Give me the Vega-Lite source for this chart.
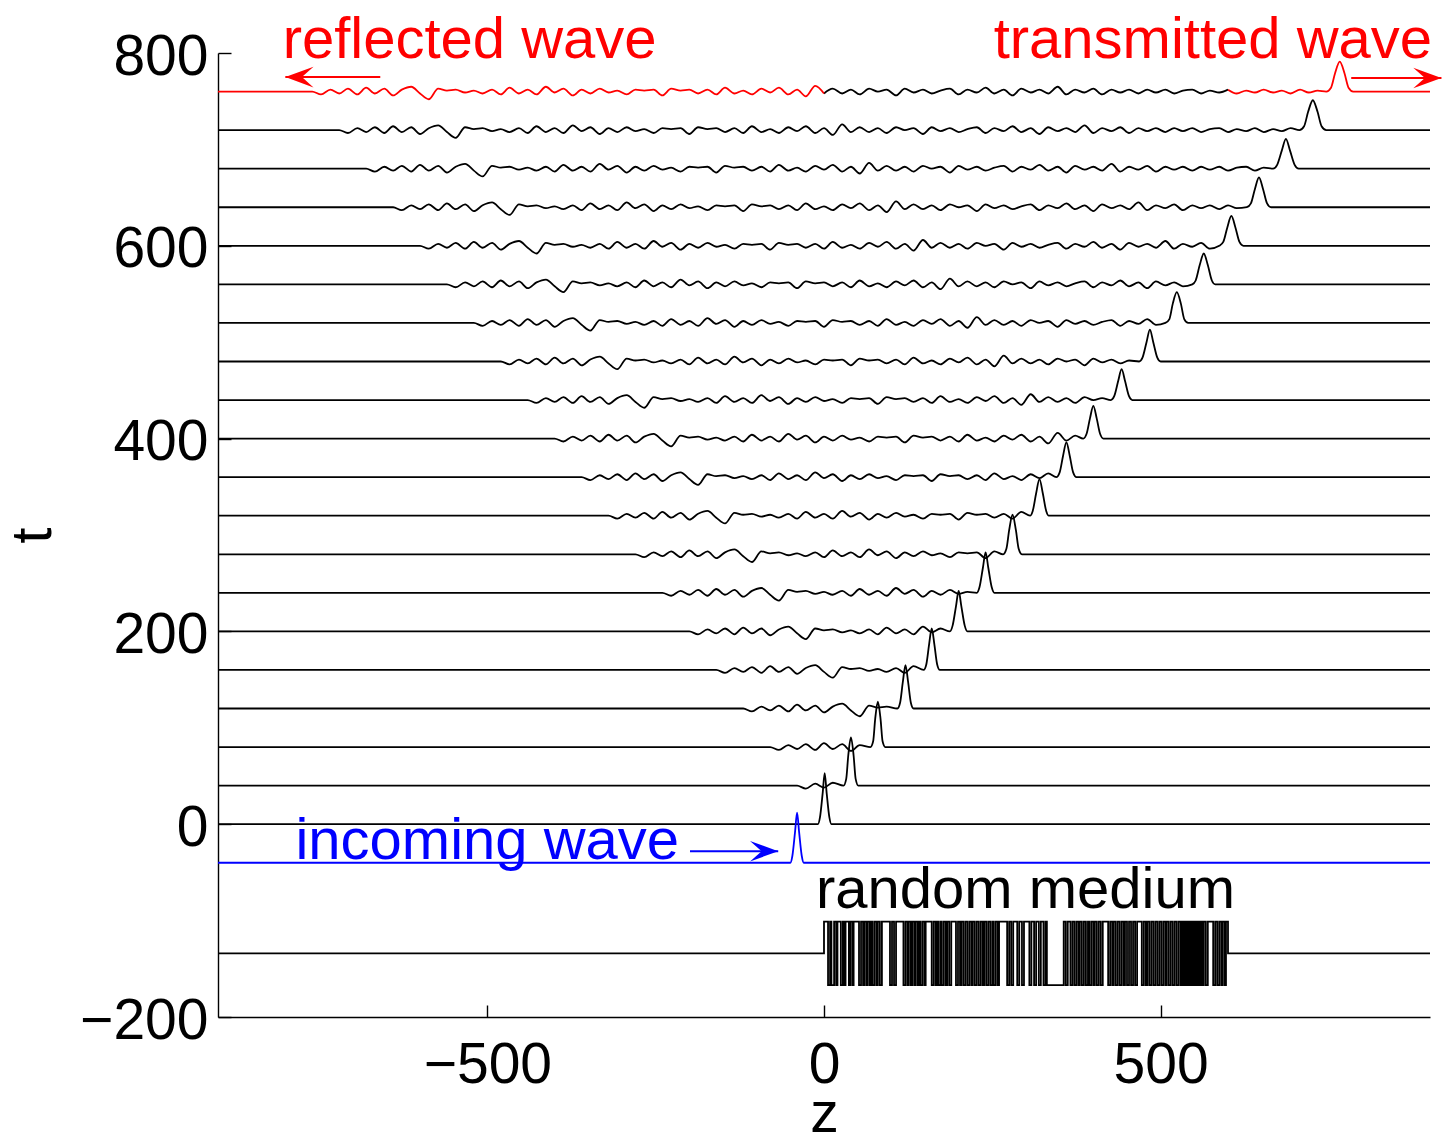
{
"$schema":"https://vega.github.io/schema/vega-lite/v6.json",
"width":1212,"height":964,
"autosize":{"type":"none"},
"padding":{"left":218,"top":53,"right":12,"bottom":121},
"background":"white",
"config":{"view":{"stroke":null},"font":"Liberation Sans","axis":{"labelFont":"Liberation Sans","titleFont":"Liberation Sans","grid":false}},
"datasets":{
"dots":[{"z":0},{"z":600}],
"blue":[{"z":-900,"y":-40},{"z":-50,"y":-40},{"z":-47,"y":-33},{"z":-43,"y":-8},{"z":-40,"y":12},{"z":-37,"y":-8},{"z":-33,"y":-33},{"z":-30,"y":-40},{"z":900,"y":-40}],
"red":[{"p":"r","z":-900,"y":760},{"p":"r","z":-760,"y":760},{"p":"r","z":-747,"y":757},{"p":"r","z":-733,"y":762},{"p":"r","z":-720,"y":758},{"p":"r","z":-707,"y":763},{"p":"r","z":-693,"y":757},{"p":"r","z":-680,"y":764},{"p":"r","z":-667,"y":758},{"p":"r","z":-653,"y":763},{"p":"r","z":-640,"y":756},{"p":"r","z":-627,"y":762},{"p":"r","z":-613,"y":765},{"p":"r","z":-600,"y":758},{"p":"r","z":-587,"y":752},{"p":"r","z":-573,"y":763},{"p":"r","z":-560,"y":761},{"p":"r","z":-547,"y":762},{"p":"r","z":-533,"y":759},{"p":"r","z":-520,"y":761},{"p":"r","z":-507,"y":758},{"p":"r","z":-493,"y":762},{"p":"r","z":-480,"y":757},{"p":"r","z":-467,"y":764},{"p":"r","z":-453,"y":758},{"p":"r","z":-440,"y":762},{"p":"r","z":-427,"y":757},{"p":"r","z":-413,"y":765},{"p":"r","z":-400,"y":759},{"p":"r","z":-387,"y":763},{"p":"r","z":-373,"y":756},{"p":"r","z":-360,"y":762},{"p":"r","z":-347,"y":758},{"p":"r","z":-333,"y":763},{"p":"r","z":-320,"y":759},{"p":"r","z":-307,"y":761},{"p":"r","z":-293,"y":757},{"p":"r","z":-280,"y":762},{"p":"r","z":-267,"y":761},{"p":"r","z":-253,"y":762},{"p":"r","z":-240,"y":756},{"p":"r","z":-227,"y":763},{"p":"r","z":-213,"y":761},{"p":"r","z":-200,"y":762},{"p":"r","z":-187,"y":758},{"p":"r","z":-173,"y":762},{"p":"r","z":-160,"y":757},{"p":"r","z":-147,"y":764},{"p":"r","z":-133,"y":758},{"p":"r","z":-120,"y":761},{"p":"r","z":-107,"y":757},{"p":"r","z":-93,"y":763},{"p":"r","z":-80,"y":759},{"p":"r","z":-67,"y":764},{"p":"r","z":-53,"y":757},{"p":"r","z":-40,"y":762},{"p":"r","z":-27,"y":755},{"p":"r","z":-13,"y":766},{"p":"r","z":0,"y":758},
{"p":"T","z":600,"y":762},{"p":"T","z":613,"y":758},{"p":"T","z":627,"y":761},{"p":"T","z":640,"y":759},{"p":"T","z":653,"y":762},{"p":"T","z":667,"y":759},{"p":"T","z":680,"y":761},{"p":"T","z":693,"y":758},{"p":"T","z":707,"y":762},{"p":"T","z":720,"y":759},{"p":"T","z":733,"y":761},{"p":"T","z":746,"y":760},{"p":"T","z":753,"y":764},{"p":"T","z":759,"y":779},{"p":"T","z":766,"y":791},{"p":"T","z":773,"y":779},{"p":"T","z":779,"y":764},{"p":"T","z":786,"y":760},{"p":"T","z":900,"y":760}],
"med":[{"z":-900,"y":-134},{"z":0,"y":-101},{"z":6,"y":-167},{"z":9,"y":-101},{"z":11,"y":-167},{"z":15,"y":-101},{"z":18,"y":-167},{"z":20,"y":-101},{"z":25,"y":-167},{"z":28,"y":-101},{"z":30,"y":-167},{"z":32,"y":-101},{"z":37,"y":-167},{"z":39,"y":-101},{"z":42,"y":-167},{"z":44,"y":-101},{"z":52,"y":-167},{"z":55,"y":-101},{"z":58,"y":-167},{"z":60,"y":-101},{"z":63,"y":-167},{"z":65,"y":-101},{"z":68,"y":-167},{"z":70,"y":-101},{"z":72,"y":-167},{"z":75,"y":-101},{"z":78,"y":-167},{"z":80,"y":-101},{"z":83,"y":-167},{"z":86,"y":-101},{"z":98,"y":-167},{"z":101,"y":-101},{"z":104,"y":-167},{"z":107,"y":-101},{"z":118,"y":-167},{"z":121,"y":-101},{"z":124,"y":-167},{"z":126,"y":-101},{"z":129,"y":-167},{"z":131,"y":-101},{"z":134,"y":-167},{"z":136,"y":-101},{"z":139,"y":-167},{"z":141,"y":-101},{"z":143,"y":-167},{"z":146,"y":-101},{"z":149,"y":-167},{"z":151,"y":-101},{"z":160,"y":-167},{"z":163,"y":-101},{"z":166,"y":-167},{"z":168,"y":-101},{"z":170,"y":-167},{"z":173,"y":-101},{"z":175,"y":-167},{"z":178,"y":-101},{"z":181,"y":-167},{"z":183,"y":-101},{"z":186,"y":-167},{"z":189,"y":-101},{"z":196,"y":-167},{"z":199,"y":-101},{"z":202,"y":-167},{"z":204,"y":-101},{"z":207,"y":-167},{"z":210,"y":-101},{"z":213,"y":-167},{"z":216,"y":-101},{"z":219,"y":-167},{"z":221,"y":-101},{"z":224,"y":-167},{"z":227,"y":-101},{"z":230,"y":-167},{"z":233,"y":-101},{"z":236,"y":-167},{"z":238,"y":-101},{"z":241,"y":-167},{"z":244,"y":-101},{"z":247,"y":-167},{"z":250,"y":-101},{"z":252,"y":-167},{"z":255,"y":-101},{"z":258,"y":-167},{"z":260,"y":-101},{"z":272,"y":-167},{"z":275,"y":-101},{"z":278,"y":-167},{"z":281,"y":-101},{"z":287,"y":-167},{"z":290,"y":-101},{"z":294,"y":-167},{"z":297,"y":-101},{"z":305,"y":-167},{"z":308,"y":-101},{"z":312,"y":-167},{"z":315,"y":-101},{"z":319,"y":-167},{"z":322,"y":-101},{"z":326,"y":-167},{"z":329,"y":-101},{"z":331,"y":-167},{"z":356,"y":-101},{"z":359,"y":-167},{"z":362,"y":-101},{"z":366,"y":-167},{"z":369,"y":-101},{"z":372,"y":-167},{"z":375,"y":-101},{"z":378,"y":-167},{"z":380,"y":-101},{"z":383,"y":-167},{"z":386,"y":-101},{"z":389,"y":-167},{"z":392,"y":-101},{"z":394,"y":-167},{"z":397,"y":-101},{"z":400,"y":-167},{"z":402,"y":-101},{"z":405,"y":-167},{"z":408,"y":-101},{"z":411,"y":-167},{"z":414,"y":-101},{"z":422,"y":-167},{"z":425,"y":-101},{"z":428,"y":-167},{"z":430,"y":-101},{"z":433,"y":-167},{"z":436,"y":-101},{"z":439,"y":-167},{"z":442,"y":-101},{"z":445,"y":-167},{"z":447,"y":-101},{"z":450,"y":-167},{"z":453,"y":-101},{"z":456,"y":-167},{"z":459,"y":-101},{"z":462,"y":-167},{"z":465,"y":-101},{"z":472,"y":-167},{"z":475,"y":-101},{"z":478,"y":-167},{"z":480,"y":-101},{"z":483,"y":-167},{"z":486,"y":-101},{"z":489,"y":-167},{"z":492,"y":-101},{"z":495,"y":-167},{"z":498,"y":-101},{"z":501,"y":-167},{"z":504,"y":-101},{"z":507,"y":-167},{"z":509,"y":-101},{"z":512,"y":-167},{"z":515,"y":-101},{"z":518,"y":-167},{"z":521,"y":-101},{"z":524,"y":-167},{"z":527,"y":-101},{"z":530,"y":-167},{"z":532,"y":-101},{"z":534,"y":-167},{"z":536,"y":-101},{"z":538,"y":-167},{"z":540,"y":-101},{"z":542,"y":-167},{"z":544,"y":-101},{"z":546,"y":-167},{"z":548,"y":-101},{"z":550,"y":-167},{"z":552,"y":-101},{"z":554,"y":-167},{"z":556,"y":-101},{"z":558,"y":-167},{"z":560,"y":-101},{"z":562,"y":-167},{"z":564,"y":-101},{"z":567,"y":-167},{"z":570,"y":-101},{"z":578,"y":-167},{"z":581,"y":-101},{"z":584,"y":-167},{"z":587,"y":-101},{"z":590,"y":-167},{"z":592,"y":-101},{"z":595,"y":-167},{"z":597,"y":-101},{"z":600,"y":-134},{"z":900,"y":-134}],
"arr":[{"w":"reflected","z":-659,"z2":-800,"y":775},{"w":"transmitted","z":783,"z2":917,"y":774},{"w":"incoming","z":-199,"z2":-68,"y":-28}],
"lab":[{"s":"reflected wave","w":"reflected","z":-804,"y":795},{"s":"transmitted wave","w":"transmitted","z":252,"y":795},{"s":"incoming wave","w":"incoming","z":-785,"y":-36},{"s":"random medium","w":"medium","z":-12,"y":-87}],
"tr":[
{"k":0,"z":-900,"y":0},{"k":0,"z":-9,"y":0},{"k":0,"z":-6,"y":7},{"k":0,"z":-2,"y":32},{"k":0,"z":1,"y":53},{"k":0,"z":4,"y":32},{"k":0,"z":8,"y":7},{"k":0,"z":11,"y":0},{"k":0,"z":900,"y":0},
{"k":1,"z":-900,"y":40},{"k":1,"z":-40,"y":40},{"k":1,"z":-27,"y":37},{"k":1,"z":-13,"y":42},{"k":1,"z":0,"y":38},{"k":1,"z":13,"y":43},{"k":1,"z":29,"y":40},{"k":1,"z":33,"y":47},{"k":1,"z":36,"y":71},{"k":1,"z":40,"y":90},{"k":1,"z":44,"y":71},{"k":1,"z":47,"y":47},{"k":1,"z":51,"y":40},{"k":1,"z":900,"y":40},
{"k":2,"z":-900,"y":80},{"k":2,"z":-80,"y":80},{"k":2,"z":-67,"y":77},{"k":2,"z":-53,"y":82},{"k":2,"z":-40,"y":78},{"k":2,"z":-27,"y":83},{"k":2,"z":-13,"y":77},{"k":2,"z":0,"y":84},{"k":2,"z":13,"y":78},{"k":2,"z":27,"y":83},{"k":2,"z":40,"y":76},{"k":2,"z":53,"y":82},{"k":2,"z":69,"y":80},{"k":2,"z":73,"y":86},{"k":2,"z":76,"y":109},{"k":2,"z":80,"y":127},{"k":2,"z":84,"y":109},{"k":2,"z":87,"y":86},{"k":2,"z":91,"y":80},{"k":2,"z":900,"y":80},
{"k":3,"z":-900,"y":120},{"k":3,"z":-120,"y":120},{"k":3,"z":-107,"y":117},{"k":3,"z":-93,"y":122},{"k":3,"z":-80,"y":118},{"k":3,"z":-67,"y":123},{"k":3,"z":-53,"y":117},{"k":3,"z":-40,"y":124},{"k":3,"z":-27,"y":118},{"k":3,"z":-13,"y":123},{"k":3,"z":0,"y":116},{"k":3,"z":13,"y":122},{"k":3,"z":27,"y":125},{"k":3,"z":40,"y":118},{"k":3,"z":53,"y":112},{"k":3,"z":67,"y":123},{"k":3,"z":80,"y":121},{"k":3,"z":93,"y":122},{"k":3,"z":109,"y":120},{"k":3,"z":113,"y":126},{"k":3,"z":117,"y":147},{"k":3,"z":121,"y":165},{"k":3,"z":125,"y":147},{"k":3,"z":129,"y":126},{"k":3,"z":133,"y":120},{"k":3,"z":900,"y":120},
{"k":4,"z":-900,"y":160},{"k":4,"z":-160,"y":160},{"k":4,"z":-147,"y":157},{"k":4,"z":-133,"y":162},{"k":4,"z":-120,"y":158},{"k":4,"z":-107,"y":163},{"k":4,"z":-93,"y":157},{"k":4,"z":-80,"y":164},{"k":4,"z":-67,"y":158},{"k":4,"z":-53,"y":163},{"k":4,"z":-40,"y":156},{"k":4,"z":-27,"y":162},{"k":4,"z":-13,"y":165},{"k":4,"z":0,"y":158},{"k":4,"z":13,"y":152},{"k":4,"z":27,"y":163},{"k":4,"z":40,"y":161},{"k":4,"z":53,"y":162},{"k":4,"z":67,"y":159},{"k":4,"z":80,"y":161},{"k":4,"z":93,"y":158},{"k":4,"z":107,"y":162},{"k":4,"z":120,"y":157},{"k":4,"z":133,"y":164},{"k":4,"z":148,"y":160},{"k":4,"z":152,"y":166},{"k":4,"z":156,"y":186},{"k":4,"z":160,"y":203},{"k":4,"z":164,"y":186},{"k":4,"z":168,"y":166},{"k":4,"z":172,"y":160},{"k":4,"z":900,"y":160},
{"k":5,"z":-900,"y":200},{"k":5,"z":-200,"y":200},{"k":5,"z":-187,"y":197},{"k":5,"z":-173,"y":202},{"k":5,"z":-160,"y":198},{"k":5,"z":-147,"y":203},{"k":5,"z":-133,"y":197},{"k":5,"z":-120,"y":204},{"k":5,"z":-107,"y":198},{"k":5,"z":-93,"y":203},{"k":5,"z":-80,"y":196},{"k":5,"z":-67,"y":202},{"k":5,"z":-53,"y":205},{"k":5,"z":-40,"y":198},{"k":5,"z":-27,"y":192},{"k":5,"z":-13,"y":203},{"k":5,"z":0,"y":201},{"k":5,"z":13,"y":202},{"k":5,"z":27,"y":199},{"k":5,"z":40,"y":201},{"k":5,"z":53,"y":198},{"k":5,"z":67,"y":202},{"k":5,"z":80,"y":197},{"k":5,"z":93,"y":204},{"k":5,"z":107,"y":198},{"k":5,"z":120,"y":202},{"k":5,"z":133,"y":197},{"k":5,"z":147,"y":205},{"k":5,"z":160,"y":199},{"k":5,"z":173,"y":203},{"k":5,"z":187,"y":200},{"k":5,"z":191,"y":206},{"k":5,"z":196,"y":226},{"k":5,"z":200,"y":242},{"k":5,"z":204,"y":226},{"k":5,"z":209,"y":206},{"k":5,"z":213,"y":200},{"k":5,"z":900,"y":200},
{"k":6,"z":-900,"y":240},{"k":6,"z":-240,"y":240},{"k":6,"z":-227,"y":237},{"k":6,"z":-213,"y":242},{"k":6,"z":-200,"y":238},{"k":6,"z":-187,"y":243},{"k":6,"z":-173,"y":237},{"k":6,"z":-160,"y":244},{"k":6,"z":-147,"y":238},{"k":6,"z":-133,"y":243},{"k":6,"z":-120,"y":236},{"k":6,"z":-107,"y":242},{"k":6,"z":-93,"y":245},{"k":6,"z":-80,"y":238},{"k":6,"z":-67,"y":232},{"k":6,"z":-53,"y":243},{"k":6,"z":-40,"y":241},{"k":6,"z":-27,"y":242},{"k":6,"z":-13,"y":239},{"k":6,"z":0,"y":241},{"k":6,"z":13,"y":238},{"k":6,"z":27,"y":242},{"k":6,"z":40,"y":237},{"k":6,"z":53,"y":244},{"k":6,"z":67,"y":238},{"k":6,"z":80,"y":242},{"k":6,"z":93,"y":237},{"k":6,"z":107,"y":245},{"k":6,"z":120,"y":239},{"k":6,"z":133,"y":243},{"k":6,"z":147,"y":236},{"k":6,"z":160,"y":242},{"k":6,"z":173,"y":238},{"k":6,"z":187,"y":243},{"k":6,"z":200,"y":239},{"k":6,"z":213,"y":241},{"k":6,"z":227,"y":240},{"k":6,"z":231,"y":246},{"k":6,"z":236,"y":266},{"k":6,"z":240,"y":282},{"k":6,"z":244,"y":266},{"k":6,"z":249,"y":246},{"k":6,"z":253,"y":240},{"k":6,"z":900,"y":240},
{"k":7,"z":-900,"y":280},{"k":7,"z":-280,"y":280},{"k":7,"z":-267,"y":277},{"k":7,"z":-253,"y":282},{"k":7,"z":-240,"y":278},{"k":7,"z":-227,"y":283},{"k":7,"z":-213,"y":277},{"k":7,"z":-200,"y":284},{"k":7,"z":-187,"y":278},{"k":7,"z":-173,"y":283},{"k":7,"z":-160,"y":276},{"k":7,"z":-147,"y":282},{"k":7,"z":-133,"y":285},{"k":7,"z":-120,"y":278},{"k":7,"z":-107,"y":272},{"k":7,"z":-93,"y":283},{"k":7,"z":-80,"y":281},{"k":7,"z":-67,"y":282},{"k":7,"z":-53,"y":279},{"k":7,"z":-40,"y":281},{"k":7,"z":-27,"y":278},{"k":7,"z":-13,"y":282},{"k":7,"z":0,"y":277},{"k":7,"z":13,"y":284},{"k":7,"z":27,"y":278},{"k":7,"z":40,"y":282},{"k":7,"z":53,"y":277},{"k":7,"z":67,"y":285},{"k":7,"z":80,"y":279},{"k":7,"z":93,"y":283},{"k":7,"z":107,"y":276},{"k":7,"z":120,"y":282},{"k":7,"z":133,"y":278},{"k":7,"z":147,"y":283},{"k":7,"z":160,"y":279},{"k":7,"z":173,"y":281},{"k":7,"z":187,"y":277},{"k":7,"z":200,"y":282},{"k":7,"z":213,"y":281},{"k":7,"z":227,"y":282},{"k":7,"z":240,"y":276},{"k":7,"z":253,"y":283},{"k":7,"z":266,"y":280},{"k":7,"z":271,"y":286},{"k":7,"z":275,"y":305},{"k":7,"z":280,"y":321},{"k":7,"z":285,"y":305},{"k":7,"z":289,"y":286},{"k":7,"z":294,"y":280},{"k":7,"z":900,"y":280},
{"k":8,"z":-900,"y":320},{"k":8,"z":-320,"y":320},{"k":8,"z":-307,"y":317},{"k":8,"z":-293,"y":322},{"k":8,"z":-280,"y":318},{"k":8,"z":-267,"y":323},{"k":8,"z":-253,"y":317},{"k":8,"z":-240,"y":324},{"k":8,"z":-227,"y":318},{"k":8,"z":-213,"y":323},{"k":8,"z":-200,"y":316},{"k":8,"z":-187,"y":322},{"k":8,"z":-173,"y":325},{"k":8,"z":-160,"y":318},{"k":8,"z":-147,"y":312},{"k":8,"z":-133,"y":323},{"k":8,"z":-120,"y":321},{"k":8,"z":-107,"y":322},{"k":8,"z":-93,"y":319},{"k":8,"z":-80,"y":321},{"k":8,"z":-67,"y":318},{"k":8,"z":-53,"y":322},{"k":8,"z":-40,"y":317},{"k":8,"z":-27,"y":324},{"k":8,"z":-13,"y":318},{"k":8,"z":0,"y":322},{"k":8,"z":13,"y":317},{"k":8,"z":27,"y":325},{"k":8,"z":40,"y":319},{"k":8,"z":53,"y":323},{"k":8,"z":67,"y":316},{"k":8,"z":80,"y":322},{"k":8,"z":93,"y":318},{"k":8,"z":107,"y":323},{"k":8,"z":120,"y":319},{"k":8,"z":133,"y":321},{"k":8,"z":147,"y":317},{"k":8,"z":160,"y":322},{"k":8,"z":173,"y":321},{"k":8,"z":187,"y":322},{"k":8,"z":200,"y":316},{"k":8,"z":213,"y":323},{"k":8,"z":227,"y":321},{"k":8,"z":240,"y":322},{"k":8,"z":253,"y":318},{"k":8,"z":267,"y":322},{"k":8,"z":280,"y":317},{"k":8,"z":293,"y":324},{"k":8,"z":306,"y":320},{"k":8,"z":310,"y":325},{"k":8,"z":315,"y":343},{"k":8,"z":320,"y":358},{"k":8,"z":325,"y":343},{"k":8,"z":330,"y":325},{"k":8,"z":334,"y":320},{"k":8,"z":900,"y":320},
{"k":9,"z":-900,"y":360},{"k":9,"z":-360,"y":360},{"k":9,"z":-347,"y":357},{"k":9,"z":-333,"y":362},{"k":9,"z":-320,"y":358},{"k":9,"z":-307,"y":363},{"k":9,"z":-293,"y":357},{"k":9,"z":-280,"y":364},{"k":9,"z":-267,"y":358},{"k":9,"z":-253,"y":363},{"k":9,"z":-240,"y":356},{"k":9,"z":-227,"y":362},{"k":9,"z":-213,"y":365},{"k":9,"z":-200,"y":358},{"k":9,"z":-187,"y":352},{"k":9,"z":-173,"y":363},{"k":9,"z":-160,"y":361},{"k":9,"z":-147,"y":362},{"k":9,"z":-133,"y":359},{"k":9,"z":-120,"y":361},{"k":9,"z":-107,"y":358},{"k":9,"z":-93,"y":362},{"k":9,"z":-80,"y":357},{"k":9,"z":-67,"y":364},{"k":9,"z":-53,"y":358},{"k":9,"z":-40,"y":362},{"k":9,"z":-27,"y":357},{"k":9,"z":-13,"y":365},{"k":9,"z":0,"y":359},{"k":9,"z":13,"y":363},{"k":9,"z":27,"y":356},{"k":9,"z":40,"y":362},{"k":9,"z":53,"y":358},{"k":9,"z":67,"y":363},{"k":9,"z":80,"y":359},{"k":9,"z":93,"y":361},{"k":9,"z":107,"y":357},{"k":9,"z":120,"y":362},{"k":9,"z":133,"y":361},{"k":9,"z":147,"y":362},{"k":9,"z":160,"y":356},{"k":9,"z":173,"y":363},{"k":9,"z":187,"y":361},{"k":9,"z":200,"y":362},{"k":9,"z":213,"y":358},{"k":9,"z":227,"y":362},{"k":9,"z":240,"y":357},{"k":9,"z":253,"y":364},{"k":9,"z":267,"y":358},{"k":9,"z":280,"y":361},{"k":9,"z":293,"y":357},{"k":9,"z":307,"y":363},{"k":9,"z":320,"y":359},{"k":9,"z":333,"y":364},{"k":9,"z":345,"y":360},{"k":9,"z":350,"y":365},{"k":9,"z":355,"y":382},{"k":9,"z":360,"y":396},{"k":9,"z":365,"y":382},{"k":9,"z":370,"y":365},{"k":9,"z":375,"y":360},{"k":9,"z":900,"y":360},
{"k":10,"z":-900,"y":400},{"k":10,"z":-400,"y":400},{"k":10,"z":-387,"y":397},{"k":10,"z":-373,"y":402},{"k":10,"z":-360,"y":398},{"k":10,"z":-347,"y":403},{"k":10,"z":-333,"y":397},{"k":10,"z":-320,"y":404},{"k":10,"z":-307,"y":398},{"k":10,"z":-293,"y":403},{"k":10,"z":-280,"y":396},{"k":10,"z":-267,"y":402},{"k":10,"z":-253,"y":405},{"k":10,"z":-240,"y":398},{"k":10,"z":-227,"y":392},{"k":10,"z":-213,"y":403},{"k":10,"z":-200,"y":401},{"k":10,"z":-187,"y":402},{"k":10,"z":-173,"y":399},{"k":10,"z":-160,"y":401},{"k":10,"z":-147,"y":398},{"k":10,"z":-133,"y":402},{"k":10,"z":-120,"y":397},{"k":10,"z":-107,"y":404},{"k":10,"z":-93,"y":398},{"k":10,"z":-80,"y":402},{"k":10,"z":-67,"y":397},{"k":10,"z":-53,"y":405},{"k":10,"z":-40,"y":399},{"k":10,"z":-27,"y":403},{"k":10,"z":-13,"y":396},{"k":10,"z":0,"y":402},{"k":10,"z":13,"y":398},{"k":10,"z":27,"y":403},{"k":10,"z":40,"y":399},{"k":10,"z":53,"y":401},{"k":10,"z":67,"y":397},{"k":10,"z":80,"y":402},{"k":10,"z":93,"y":401},{"k":10,"z":107,"y":402},{"k":10,"z":120,"y":396},{"k":10,"z":133,"y":403},{"k":10,"z":147,"y":401},{"k":10,"z":160,"y":402},{"k":10,"z":173,"y":398},{"k":10,"z":187,"y":402},{"k":10,"z":200,"y":397},{"k":10,"z":213,"y":404},{"k":10,"z":227,"y":398},{"k":10,"z":240,"y":401},{"k":10,"z":253,"y":397},{"k":10,"z":267,"y":403},{"k":10,"z":280,"y":399},{"k":10,"z":293,"y":404},{"k":10,"z":307,"y":397},{"k":10,"z":320,"y":402},{"k":10,"z":333,"y":395},{"k":10,"z":347,"y":406},{"k":10,"z":360,"y":398},{"k":10,"z":373,"y":403},{"k":10,"z":385,"y":400},{"k":10,"z":390,"y":405},{"k":10,"z":395,"y":421},{"k":10,"z":400,"y":434},{"k":10,"z":405,"y":421},{"k":10,"z":410,"y":405},{"k":10,"z":415,"y":400},{"k":10,"z":900,"y":400},
{"k":11,"z":-900,"y":440},{"k":11,"z":-440,"y":440},{"k":11,"z":-427,"y":437},{"k":11,"z":-413,"y":442},{"k":11,"z":-400,"y":438},{"k":11,"z":-387,"y":443},{"k":11,"z":-373,"y":437},{"k":11,"z":-360,"y":444},{"k":11,"z":-347,"y":438},{"k":11,"z":-333,"y":443},{"k":11,"z":-320,"y":436},{"k":11,"z":-307,"y":442},{"k":11,"z":-293,"y":445},{"k":11,"z":-280,"y":438},{"k":11,"z":-267,"y":432},{"k":11,"z":-253,"y":443},{"k":11,"z":-240,"y":441},{"k":11,"z":-227,"y":442},{"k":11,"z":-213,"y":439},{"k":11,"z":-200,"y":441},{"k":11,"z":-187,"y":438},{"k":11,"z":-173,"y":442},{"k":11,"z":-160,"y":437},{"k":11,"z":-147,"y":444},{"k":11,"z":-133,"y":438},{"k":11,"z":-120,"y":442},{"k":11,"z":-107,"y":437},{"k":11,"z":-93,"y":445},{"k":11,"z":-80,"y":439},{"k":11,"z":-67,"y":443},{"k":11,"z":-53,"y":436},{"k":11,"z":-40,"y":442},{"k":11,"z":-27,"y":438},{"k":11,"z":-13,"y":443},{"k":11,"z":0,"y":439},{"k":11,"z":13,"y":441},{"k":11,"z":27,"y":437},{"k":11,"z":40,"y":442},{"k":11,"z":53,"y":441},{"k":11,"z":67,"y":442},{"k":11,"z":80,"y":436},{"k":11,"z":93,"y":443},{"k":11,"z":107,"y":441},{"k":11,"z":120,"y":442},{"k":11,"z":133,"y":438},{"k":11,"z":147,"y":442},{"k":11,"z":160,"y":437},{"k":11,"z":173,"y":444},{"k":11,"z":187,"y":438},{"k":11,"z":200,"y":441},{"k":11,"z":213,"y":437},{"k":11,"z":227,"y":443},{"k":11,"z":240,"y":439},{"k":11,"z":253,"y":444},{"k":11,"z":267,"y":437},{"k":11,"z":280,"y":442},{"k":11,"z":293,"y":435},{"k":11,"z":307,"y":446},{"k":11,"z":320,"y":438},{"k":11,"z":333,"y":443},{"k":11,"z":347,"y":438},{"k":11,"z":360,"y":442},{"k":11,"z":373,"y":437},{"k":11,"z":387,"y":443},{"k":11,"z":400,"y":440},{"k":11,"z":413,"y":442},{"k":11,"z":426,"y":440},{"k":11,"z":431,"y":444},{"k":11,"z":437,"y":460},{"k":11,"z":442,"y":472},{"k":11,"z":447,"y":460},{"k":11,"z":453,"y":444},{"k":11,"z":458,"y":440},{"k":11,"z":900,"y":440},
{"k":12,"z":-900,"y":480},{"k":12,"z":-480,"y":480},{"k":12,"z":-467,"y":477},{"k":12,"z":-453,"y":482},{"k":12,"z":-440,"y":478},{"k":12,"z":-427,"y":483},{"k":12,"z":-413,"y":477},{"k":12,"z":-400,"y":484},{"k":12,"z":-387,"y":478},{"k":12,"z":-373,"y":483},{"k":12,"z":-360,"y":476},{"k":12,"z":-347,"y":482},{"k":12,"z":-333,"y":485},{"k":12,"z":-320,"y":478},{"k":12,"z":-307,"y":472},{"k":12,"z":-293,"y":483},{"k":12,"z":-280,"y":481},{"k":12,"z":-267,"y":482},{"k":12,"z":-253,"y":479},{"k":12,"z":-240,"y":481},{"k":12,"z":-227,"y":478},{"k":12,"z":-213,"y":482},{"k":12,"z":-200,"y":477},{"k":12,"z":-187,"y":484},{"k":12,"z":-173,"y":478},{"k":12,"z":-160,"y":482},{"k":12,"z":-147,"y":477},{"k":12,"z":-133,"y":485},{"k":12,"z":-120,"y":479},{"k":12,"z":-107,"y":483},{"k":12,"z":-93,"y":476},{"k":12,"z":-80,"y":482},{"k":12,"z":-67,"y":478},{"k":12,"z":-53,"y":483},{"k":12,"z":-40,"y":479},{"k":12,"z":-27,"y":481},{"k":12,"z":-13,"y":477},{"k":12,"z":0,"y":482},{"k":12,"z":13,"y":481},{"k":12,"z":27,"y":482},{"k":12,"z":40,"y":476},{"k":12,"z":53,"y":483},{"k":12,"z":67,"y":481},{"k":12,"z":80,"y":482},{"k":12,"z":93,"y":478},{"k":12,"z":107,"y":482},{"k":12,"z":120,"y":477},{"k":12,"z":133,"y":484},{"k":12,"z":147,"y":478},{"k":12,"z":160,"y":481},{"k":12,"z":173,"y":477},{"k":12,"z":187,"y":483},{"k":12,"z":200,"y":479},{"k":12,"z":213,"y":484},{"k":12,"z":227,"y":477},{"k":12,"z":240,"y":482},{"k":12,"z":253,"y":475},{"k":12,"z":267,"y":486},{"k":12,"z":280,"y":478},{"k":12,"z":293,"y":483},{"k":12,"z":307,"y":478},{"k":12,"z":320,"y":482},{"k":12,"z":333,"y":477},{"k":12,"z":347,"y":483},{"k":12,"z":360,"y":480},{"k":12,"z":373,"y":482},{"k":12,"z":387,"y":476},{"k":12,"z":400,"y":483},{"k":12,"z":413,"y":479},{"k":12,"z":427,"y":482},{"k":12,"z":440,"y":478},{"k":12,"z":453,"y":481},{"k":12,"z":468,"y":480},{"k":12,"z":473,"y":484},{"k":12,"z":479,"y":500},{"k":12,"z":484,"y":513},{"k":12,"z":489,"y":500},{"k":12,"z":495,"y":484},{"k":12,"z":500,"y":480},{"k":12,"z":900,"y":480},
{"k":13,"z":-900,"y":520},{"k":13,"z":-520,"y":520},{"k":13,"z":-507,"y":517},{"k":13,"z":-493,"y":522},{"k":13,"z":-480,"y":518},{"k":13,"z":-467,"y":523},{"k":13,"z":-453,"y":517},{"k":13,"z":-440,"y":524},{"k":13,"z":-427,"y":518},{"k":13,"z":-413,"y":523},{"k":13,"z":-400,"y":516},{"k":13,"z":-387,"y":522},{"k":13,"z":-373,"y":525},{"k":13,"z":-360,"y":518},{"k":13,"z":-347,"y":512},{"k":13,"z":-333,"y":523},{"k":13,"z":-320,"y":521},{"k":13,"z":-307,"y":522},{"k":13,"z":-293,"y":519},{"k":13,"z":-280,"y":521},{"k":13,"z":-267,"y":518},{"k":13,"z":-253,"y":522},{"k":13,"z":-240,"y":517},{"k":13,"z":-227,"y":524},{"k":13,"z":-213,"y":518},{"k":13,"z":-200,"y":522},{"k":13,"z":-187,"y":517},{"k":13,"z":-173,"y":525},{"k":13,"z":-160,"y":519},{"k":13,"z":-147,"y":523},{"k":13,"z":-133,"y":516},{"k":13,"z":-120,"y":522},{"k":13,"z":-107,"y":518},{"k":13,"z":-93,"y":523},{"k":13,"z":-80,"y":519},{"k":13,"z":-67,"y":521},{"k":13,"z":-53,"y":517},{"k":13,"z":-40,"y":522},{"k":13,"z":-27,"y":521},{"k":13,"z":-13,"y":522},{"k":13,"z":0,"y":516},{"k":13,"z":13,"y":523},{"k":13,"z":27,"y":521},{"k":13,"z":40,"y":522},{"k":13,"z":53,"y":518},{"k":13,"z":67,"y":522},{"k":13,"z":80,"y":517},{"k":13,"z":93,"y":524},{"k":13,"z":107,"y":518},{"k":13,"z":120,"y":521},{"k":13,"z":133,"y":517},{"k":13,"z":147,"y":523},{"k":13,"z":160,"y":519},{"k":13,"z":173,"y":524},{"k":13,"z":187,"y":517},{"k":13,"z":200,"y":522},{"k":13,"z":213,"y":515},{"k":13,"z":227,"y":526},{"k":13,"z":240,"y":518},{"k":13,"z":253,"y":523},{"k":13,"z":267,"y":518},{"k":13,"z":280,"y":522},{"k":13,"z":293,"y":517},{"k":13,"z":307,"y":523},{"k":13,"z":320,"y":520},{"k":13,"z":333,"y":522},{"k":13,"z":347,"y":516},{"k":13,"z":360,"y":523},{"k":13,"z":373,"y":519},{"k":13,"z":387,"y":522},{"k":13,"z":400,"y":518},{"k":13,"z":413,"y":521},{"k":13,"z":427,"y":523},{"k":13,"z":440,"y":517},{"k":13,"z":453,"y":522},{"k":13,"z":467,"y":519},{"k":13,"z":480,"y":524},{"k":13,"z":493,"y":518},{"k":13,"z":507,"y":520},{"k":13,"z":513,"y":524},{"k":13,"z":518,"y":540},{"k":13,"z":524,"y":552},{"k":13,"z":530,"y":540},{"k":13,"z":535,"y":524},{"k":13,"z":541,"y":520},{"k":13,"z":900,"y":520},
{"k":14,"z":-900,"y":560},{"k":14,"z":-560,"y":560},{"k":14,"z":-547,"y":557},{"k":14,"z":-533,"y":562},{"k":14,"z":-520,"y":558},{"k":14,"z":-507,"y":563},{"k":14,"z":-493,"y":557},{"k":14,"z":-480,"y":564},{"k":14,"z":-467,"y":558},{"k":14,"z":-453,"y":563},{"k":14,"z":-440,"y":556},{"k":14,"z":-427,"y":562},{"k":14,"z":-413,"y":565},{"k":14,"z":-400,"y":558},{"k":14,"z":-387,"y":552},{"k":14,"z":-373,"y":563},{"k":14,"z":-360,"y":561},{"k":14,"z":-347,"y":562},{"k":14,"z":-333,"y":559},{"k":14,"z":-320,"y":561},{"k":14,"z":-307,"y":558},{"k":14,"z":-293,"y":562},{"k":14,"z":-280,"y":557},{"k":14,"z":-267,"y":564},{"k":14,"z":-253,"y":558},{"k":14,"z":-240,"y":562},{"k":14,"z":-227,"y":557},{"k":14,"z":-213,"y":565},{"k":14,"z":-200,"y":559},{"k":14,"z":-187,"y":563},{"k":14,"z":-173,"y":556},{"k":14,"z":-160,"y":562},{"k":14,"z":-147,"y":558},{"k":14,"z":-133,"y":563},{"k":14,"z":-120,"y":559},{"k":14,"z":-107,"y":561},{"k":14,"z":-93,"y":557},{"k":14,"z":-80,"y":562},{"k":14,"z":-67,"y":561},{"k":14,"z":-53,"y":562},{"k":14,"z":-40,"y":556},{"k":14,"z":-27,"y":563},{"k":14,"z":-13,"y":561},{"k":14,"z":0,"y":562},{"k":14,"z":13,"y":558},{"k":14,"z":27,"y":562},{"k":14,"z":40,"y":557},{"k":14,"z":53,"y":564},{"k":14,"z":67,"y":558},{"k":14,"z":80,"y":561},{"k":14,"z":93,"y":557},{"k":14,"z":107,"y":563},{"k":14,"z":120,"y":559},{"k":14,"z":133,"y":564},{"k":14,"z":147,"y":557},{"k":14,"z":160,"y":562},{"k":14,"z":173,"y":555},{"k":14,"z":187,"y":566},{"k":14,"z":200,"y":558},{"k":14,"z":213,"y":563},{"k":14,"z":227,"y":558},{"k":14,"z":240,"y":562},{"k":14,"z":253,"y":557},{"k":14,"z":267,"y":563},{"k":14,"z":280,"y":560},{"k":14,"z":293,"y":562},{"k":14,"z":307,"y":556},{"k":14,"z":320,"y":563},{"k":14,"z":333,"y":559},{"k":14,"z":347,"y":562},{"k":14,"z":360,"y":558},{"k":14,"z":373,"y":561},{"k":14,"z":387,"y":563},{"k":14,"z":400,"y":557},{"k":14,"z":413,"y":562},{"k":14,"z":427,"y":559},{"k":14,"z":440,"y":564},{"k":14,"z":453,"y":558},{"k":14,"z":467,"y":562},{"k":14,"z":480,"y":556},{"k":14,"z":493,"y":563},{"k":14,"z":507,"y":559},{"k":14,"z":520,"y":562},{"k":14,"z":533,"y":558},{"k":14,"z":547,"y":560},{"k":14,"z":552,"y":564},{"k":14,"z":558,"y":580},{"k":14,"z":564,"y":592},{"k":14,"z":570,"y":580},{"k":14,"z":576,"y":564},{"k":14,"z":581,"y":560},{"k":14,"z":900,"y":560},
{"k":15,"z":-900,"y":600},{"k":15,"z":-600,"y":600},{"k":15,"z":-587,"y":597},{"k":15,"z":-573,"y":602},{"k":15,"z":-560,"y":598},{"k":15,"z":-547,"y":603},{"k":15,"z":-533,"y":597},{"k":15,"z":-520,"y":604},{"k":15,"z":-507,"y":598},{"k":15,"z":-493,"y":603},{"k":15,"z":-480,"y":596},{"k":15,"z":-467,"y":602},{"k":15,"z":-453,"y":605},{"k":15,"z":-440,"y":598},{"k":15,"z":-427,"y":592},{"k":15,"z":-413,"y":603},{"k":15,"z":-400,"y":601},{"k":15,"z":-387,"y":602},{"k":15,"z":-373,"y":599},{"k":15,"z":-360,"y":601},{"k":15,"z":-347,"y":598},{"k":15,"z":-333,"y":602},{"k":15,"z":-320,"y":597},{"k":15,"z":-307,"y":604},{"k":15,"z":-293,"y":598},{"k":15,"z":-280,"y":602},{"k":15,"z":-267,"y":597},{"k":15,"z":-253,"y":605},{"k":15,"z":-240,"y":599},{"k":15,"z":-227,"y":603},{"k":15,"z":-213,"y":596},{"k":15,"z":-200,"y":602},{"k":15,"z":-187,"y":598},{"k":15,"z":-173,"y":603},{"k":15,"z":-160,"y":599},{"k":15,"z":-147,"y":601},{"k":15,"z":-133,"y":597},{"k":15,"z":-120,"y":602},{"k":15,"z":-107,"y":601},{"k":15,"z":-93,"y":602},{"k":15,"z":-80,"y":596},{"k":15,"z":-67,"y":603},{"k":15,"z":-53,"y":601},{"k":15,"z":-40,"y":602},{"k":15,"z":-27,"y":598},{"k":15,"z":-13,"y":602},{"k":15,"z":0,"y":597},{"k":15,"z":13,"y":604},{"k":15,"z":27,"y":598},{"k":15,"z":40,"y":601},{"k":15,"z":53,"y":597},{"k":15,"z":67,"y":603},{"k":15,"z":80,"y":599},{"k":15,"z":93,"y":604},{"k":15,"z":107,"y":597},{"k":15,"z":120,"y":602},{"k":15,"z":133,"y":595},{"k":15,"z":147,"y":606},{"k":15,"z":160,"y":598},{"k":15,"z":173,"y":603},{"k":15,"z":187,"y":598},{"k":15,"z":200,"y":602},{"k":15,"z":213,"y":597},{"k":15,"z":227,"y":603},{"k":15,"z":240,"y":600},{"k":15,"z":253,"y":602},{"k":15,"z":267,"y":596},{"k":15,"z":280,"y":603},{"k":15,"z":293,"y":599},{"k":15,"z":307,"y":602},{"k":15,"z":320,"y":598},{"k":15,"z":333,"y":601},{"k":15,"z":347,"y":603},{"k":15,"z":360,"y":597},{"k":15,"z":373,"y":602},{"k":15,"z":387,"y":599},{"k":15,"z":400,"y":604},{"k":15,"z":413,"y":598},{"k":15,"z":427,"y":602},{"k":15,"z":440,"y":596},{"k":15,"z":453,"y":603},{"k":15,"z":467,"y":599},{"k":15,"z":480,"y":602},{"k":15,"z":493,"y":598},{"k":15,"z":507,"y":605},{"k":15,"z":520,"y":597},{"k":15,"z":533,"y":602},{"k":15,"z":547,"y":599},{"k":15,"z":560,"y":603},{"k":15,"z":573,"y":597},{"k":15,"z":587,"y":600},{"k":15,"z":593,"y":604},{"k":15,"z":599,"y":619},{"k":15,"z":605,"y":631},{"k":15,"z":611,"y":619},{"k":15,"z":617,"y":604},{"k":15,"z":623,"y":600},{"k":15,"z":900,"y":600},
{"k":16,"z":-900,"y":640},{"k":16,"z":-640,"y":640},{"k":16,"z":-627,"y":637},{"k":16,"z":-613,"y":642},{"k":16,"z":-600,"y":638},{"k":16,"z":-587,"y":643},{"k":16,"z":-573,"y":637},{"k":16,"z":-560,"y":644},{"k":16,"z":-547,"y":638},{"k":16,"z":-533,"y":643},{"k":16,"z":-520,"y":636},{"k":16,"z":-507,"y":642},{"k":16,"z":-493,"y":645},{"k":16,"z":-480,"y":638},{"k":16,"z":-467,"y":632},{"k":16,"z":-453,"y":643},{"k":16,"z":-440,"y":641},{"k":16,"z":-427,"y":642},{"k":16,"z":-413,"y":639},{"k":16,"z":-400,"y":641},{"k":16,"z":-387,"y":638},{"k":16,"z":-373,"y":642},{"k":16,"z":-360,"y":637},{"k":16,"z":-347,"y":644},{"k":16,"z":-333,"y":638},{"k":16,"z":-320,"y":642},{"k":16,"z":-307,"y":637},{"k":16,"z":-293,"y":645},{"k":16,"z":-280,"y":639},{"k":16,"z":-267,"y":643},{"k":16,"z":-253,"y":636},{"k":16,"z":-240,"y":642},{"k":16,"z":-227,"y":638},{"k":16,"z":-213,"y":643},{"k":16,"z":-200,"y":639},{"k":16,"z":-187,"y":641},{"k":16,"z":-173,"y":637},{"k":16,"z":-160,"y":642},{"k":16,"z":-147,"y":641},{"k":16,"z":-133,"y":642},{"k":16,"z":-120,"y":636},{"k":16,"z":-107,"y":643},{"k":16,"z":-93,"y":641},{"k":16,"z":-80,"y":642},{"k":16,"z":-67,"y":638},{"k":16,"z":-53,"y":642},{"k":16,"z":-40,"y":637},{"k":16,"z":-27,"y":644},{"k":16,"z":-13,"y":638},{"k":16,"z":0,"y":641},{"k":16,"z":13,"y":637},{"k":16,"z":27,"y":643},{"k":16,"z":40,"y":639},{"k":16,"z":53,"y":644},{"k":16,"z":67,"y":637},{"k":16,"z":80,"y":642},{"k":16,"z":93,"y":635},{"k":16,"z":107,"y":646},{"k":16,"z":120,"y":638},{"k":16,"z":133,"y":643},{"k":16,"z":147,"y":638},{"k":16,"z":160,"y":642},{"k":16,"z":173,"y":637},{"k":16,"z":187,"y":643},{"k":16,"z":200,"y":640},{"k":16,"z":213,"y":642},{"k":16,"z":227,"y":636},{"k":16,"z":240,"y":643},{"k":16,"z":253,"y":639},{"k":16,"z":267,"y":642},{"k":16,"z":280,"y":638},{"k":16,"z":293,"y":641},{"k":16,"z":307,"y":643},{"k":16,"z":320,"y":637},{"k":16,"z":333,"y":642},{"k":16,"z":347,"y":639},{"k":16,"z":360,"y":644},{"k":16,"z":373,"y":638},{"k":16,"z":387,"y":642},{"k":16,"z":400,"y":636},{"k":16,"z":413,"y":643},{"k":16,"z":427,"y":639},{"k":16,"z":440,"y":642},{"k":16,"z":453,"y":638},{"k":16,"z":467,"y":645},{"k":16,"z":480,"y":637},{"k":16,"z":493,"y":642},{"k":16,"z":507,"y":639},{"k":16,"z":520,"y":643},{"k":16,"z":533,"y":637},{"k":16,"z":547,"y":642},{"k":16,"z":560,"y":639},{"k":16,"z":573,"y":642},{"k":16,"z":587,"y":638},{"k":16,"z":600,"y":642},{"k":16,"z":613,"y":639},{"k":16,"z":628,"y":640},{"k":16,"z":634,"y":644},{"k":16,"z":640,"y":659},{"k":16,"z":646,"y":671},{"k":16,"z":652,"y":659},{"k":16,"z":658,"y":644},{"k":16,"z":664,"y":640},{"k":16,"z":900,"y":640},
{"k":17,"z":-900,"y":680},{"k":17,"z":-680,"y":680},{"k":17,"z":-667,"y":677},{"k":17,"z":-653,"y":682},{"k":17,"z":-640,"y":678},{"k":17,"z":-627,"y":683},{"k":17,"z":-613,"y":677},{"k":17,"z":-600,"y":684},{"k":17,"z":-587,"y":678},{"k":17,"z":-573,"y":683},{"k":17,"z":-560,"y":676},{"k":17,"z":-547,"y":682},{"k":17,"z":-533,"y":685},{"k":17,"z":-520,"y":678},{"k":17,"z":-507,"y":672},{"k":17,"z":-493,"y":683},{"k":17,"z":-480,"y":681},{"k":17,"z":-467,"y":682},{"k":17,"z":-453,"y":679},{"k":17,"z":-440,"y":681},{"k":17,"z":-427,"y":678},{"k":17,"z":-413,"y":682},{"k":17,"z":-400,"y":677},{"k":17,"z":-387,"y":684},{"k":17,"z":-373,"y":678},{"k":17,"z":-360,"y":682},{"k":17,"z":-347,"y":677},{"k":17,"z":-333,"y":685},{"k":17,"z":-320,"y":679},{"k":17,"z":-307,"y":683},{"k":17,"z":-293,"y":676},{"k":17,"z":-280,"y":682},{"k":17,"z":-267,"y":678},{"k":17,"z":-253,"y":683},{"k":17,"z":-240,"y":679},{"k":17,"z":-227,"y":681},{"k":17,"z":-213,"y":677},{"k":17,"z":-200,"y":682},{"k":17,"z":-187,"y":681},{"k":17,"z":-173,"y":682},{"k":17,"z":-160,"y":676},{"k":17,"z":-147,"y":683},{"k":17,"z":-133,"y":681},{"k":17,"z":-120,"y":682},{"k":17,"z":-107,"y":678},{"k":17,"z":-93,"y":682},{"k":17,"z":-80,"y":677},{"k":17,"z":-67,"y":684},{"k":17,"z":-53,"y":678},{"k":17,"z":-40,"y":681},{"k":17,"z":-27,"y":677},{"k":17,"z":-13,"y":683},{"k":17,"z":0,"y":679},{"k":17,"z":13,"y":684},{"k":17,"z":27,"y":677},{"k":17,"z":40,"y":682},{"k":17,"z":53,"y":675},{"k":17,"z":67,"y":686},{"k":17,"z":80,"y":678},{"k":17,"z":93,"y":683},{"k":17,"z":107,"y":678},{"k":17,"z":120,"y":682},{"k":17,"z":133,"y":677},{"k":17,"z":147,"y":683},{"k":17,"z":160,"y":680},{"k":17,"z":173,"y":682},{"k":17,"z":187,"y":676},{"k":17,"z":200,"y":683},{"k":17,"z":213,"y":679},{"k":17,"z":227,"y":682},{"k":17,"z":240,"y":678},{"k":17,"z":253,"y":681},{"k":17,"z":267,"y":683},{"k":17,"z":280,"y":677},{"k":17,"z":293,"y":682},{"k":17,"z":307,"y":679},{"k":17,"z":320,"y":684},{"k":17,"z":333,"y":678},{"k":17,"z":347,"y":682},{"k":17,"z":360,"y":676},{"k":17,"z":373,"y":683},{"k":17,"z":387,"y":679},{"k":17,"z":400,"y":682},{"k":17,"z":413,"y":678},{"k":17,"z":427,"y":685},{"k":17,"z":440,"y":677},{"k":17,"z":453,"y":682},{"k":17,"z":467,"y":679},{"k":17,"z":480,"y":683},{"k":17,"z":493,"y":677},{"k":17,"z":507,"y":682},{"k":17,"z":520,"y":679},{"k":17,"z":533,"y":682},{"k":17,"z":547,"y":678},{"k":17,"z":560,"y":682},{"k":17,"z":573,"y":679},{"k":17,"z":587,"y":682},{"k":17,"z":600,"y":678},{"k":17,"z":613,"y":681},{"k":17,"z":627,"y":682},{"k":17,"z":640,"y":678},{"k":17,"z":653,"y":681},{"k":17,"z":667,"y":680},{"k":17,"z":673,"y":684},{"k":17,"z":680,"y":699},{"k":17,"z":686,"y":711},{"k":17,"z":692,"y":699},{"k":17,"z":699,"y":684},{"k":17,"z":705,"y":680},{"k":17,"z":900,"y":680},
{"k":18,"z":-900,"y":720},{"k":18,"z":-720,"y":720},{"k":18,"z":-707,"y":717},{"k":18,"z":-693,"y":722},{"k":18,"z":-680,"y":718},{"k":18,"z":-667,"y":723},{"k":18,"z":-653,"y":717},{"k":18,"z":-640,"y":724},{"k":18,"z":-627,"y":718},{"k":18,"z":-613,"y":723},{"k":18,"z":-600,"y":716},{"k":18,"z":-587,"y":722},{"k":18,"z":-573,"y":725},{"k":18,"z":-560,"y":718},{"k":18,"z":-547,"y":712},{"k":18,"z":-533,"y":723},{"k":18,"z":-520,"y":721},{"k":18,"z":-507,"y":722},{"k":18,"z":-493,"y":719},{"k":18,"z":-480,"y":721},{"k":18,"z":-467,"y":718},{"k":18,"z":-453,"y":722},{"k":18,"z":-440,"y":717},{"k":18,"z":-427,"y":724},{"k":18,"z":-413,"y":718},{"k":18,"z":-400,"y":722},{"k":18,"z":-387,"y":717},{"k":18,"z":-373,"y":725},{"k":18,"z":-360,"y":719},{"k":18,"z":-347,"y":723},{"k":18,"z":-333,"y":716},{"k":18,"z":-320,"y":722},{"k":18,"z":-307,"y":718},{"k":18,"z":-293,"y":723},{"k":18,"z":-280,"y":719},{"k":18,"z":-267,"y":721},{"k":18,"z":-253,"y":717},{"k":18,"z":-240,"y":722},{"k":18,"z":-227,"y":721},{"k":18,"z":-213,"y":722},{"k":18,"z":-200,"y":716},{"k":18,"z":-187,"y":723},{"k":18,"z":-173,"y":721},{"k":18,"z":-160,"y":722},{"k":18,"z":-147,"y":718},{"k":18,"z":-133,"y":722},{"k":18,"z":-120,"y":717},{"k":18,"z":-107,"y":724},{"k":18,"z":-93,"y":718},{"k":18,"z":-80,"y":721},{"k":18,"z":-67,"y":717},{"k":18,"z":-53,"y":723},{"k":18,"z":-40,"y":719},{"k":18,"z":-27,"y":724},{"k":18,"z":-13,"y":717},{"k":18,"z":0,"y":722},{"k":18,"z":13,"y":715},{"k":18,"z":27,"y":726},{"k":18,"z":40,"y":718},{"k":18,"z":53,"y":723},{"k":18,"z":67,"y":718},{"k":18,"z":80,"y":722},{"k":18,"z":93,"y":717},{"k":18,"z":107,"y":723},{"k":18,"z":120,"y":720},{"k":18,"z":133,"y":722},{"k":18,"z":147,"y":716},{"k":18,"z":160,"y":723},{"k":18,"z":173,"y":719},{"k":18,"z":187,"y":722},{"k":18,"z":200,"y":718},{"k":18,"z":213,"y":721},{"k":18,"z":227,"y":723},{"k":18,"z":240,"y":717},{"k":18,"z":253,"y":722},{"k":18,"z":267,"y":719},{"k":18,"z":280,"y":724},{"k":18,"z":293,"y":718},{"k":18,"z":307,"y":722},{"k":18,"z":320,"y":716},{"k":18,"z":333,"y":723},{"k":18,"z":347,"y":719},{"k":18,"z":360,"y":722},{"k":18,"z":373,"y":718},{"k":18,"z":387,"y":725},{"k":18,"z":400,"y":717},{"k":18,"z":413,"y":722},{"k":18,"z":427,"y":719},{"k":18,"z":440,"y":723},{"k":18,"z":453,"y":717},{"k":18,"z":467,"y":722},{"k":18,"z":480,"y":719},{"k":18,"z":493,"y":722},{"k":18,"z":507,"y":718},{"k":18,"z":520,"y":722},{"k":18,"z":533,"y":719},{"k":18,"z":547,"y":722},{"k":18,"z":560,"y":718},{"k":18,"z":573,"y":721},{"k":18,"z":587,"y":722},{"k":18,"z":600,"y":718},{"k":18,"z":613,"y":721},{"k":18,"z":627,"y":719},{"k":18,"z":640,"y":722},{"k":18,"z":653,"y":718},{"k":18,"z":667,"y":721},{"k":18,"z":680,"y":719},{"k":18,"z":693,"y":722},{"k":18,"z":706,"y":720},{"k":18,"z":713,"y":724},{"k":18,"z":719,"y":739},{"k":18,"z":726,"y":751},{"k":18,"z":733,"y":739},{"k":18,"z":739,"y":724},{"k":18,"z":746,"y":720},{"k":18,"z":900,"y":720},
{"k":19,"z":0,"y":758},{"k":19,"z":13,"y":763},{"k":19,"z":27,"y":758},{"k":19,"z":40,"y":762},{"k":19,"z":53,"y":757},{"k":19,"z":67,"y":763},{"k":19,"z":80,"y":760},{"k":19,"z":93,"y":762},{"k":19,"z":107,"y":756},{"k":19,"z":120,"y":763},{"k":19,"z":133,"y":759},{"k":19,"z":147,"y":762},{"k":19,"z":160,"y":758},{"k":19,"z":173,"y":761},{"k":19,"z":187,"y":763},{"k":19,"z":200,"y":757},{"k":19,"z":213,"y":762},{"k":19,"z":227,"y":759},{"k":19,"z":240,"y":764},{"k":19,"z":253,"y":758},{"k":19,"z":267,"y":762},{"k":19,"z":280,"y":756},{"k":19,"z":293,"y":763},{"k":19,"z":307,"y":759},{"k":19,"z":320,"y":762},{"k":19,"z":333,"y":758},{"k":19,"z":347,"y":765},{"k":19,"z":360,"y":757},{"k":19,"z":373,"y":762},{"k":19,"z":387,"y":759},{"k":19,"z":400,"y":763},{"k":19,"z":413,"y":757},{"k":19,"z":427,"y":762},{"k":19,"z":440,"y":759},{"k":19,"z":453,"y":762},{"k":19,"z":467,"y":758},{"k":19,"z":480,"y":762},{"k":19,"z":493,"y":759},{"k":19,"z":507,"y":762},{"k":19,"z":520,"y":758},{"k":19,"z":533,"y":761},{"k":19,"z":547,"y":762},{"k":19,"z":560,"y":758},{"k":19,"z":573,"y":761},{"k":19,"z":587,"y":759},{"k":19,"z":600,"y":762}
]},
"encoding":{
"x":{"field":"z","type":"quantitative","scale":{"domain":[-900,900],"nice":false,"zero":false},
"axis":{"values":[-500,0,500],"title":"z","labelFontSize":57,"titleFontSize":57,"titleFontWeight":"normal","labelColor":"black","titleColor":"black","domainColor":"black","tickColor":"black","domainWidth":1.4,"tickWidth":1.4,"tickSize":-12,"labelPadding":77,"labelBaseline":"alphabetic","labelFlush":false,"labelOverlap":false,"titleBaseline":"alphabetic","titleY":114,"titlePadding":0}},
"y":{"field":"y","type":"quantitative","scale":{"domain":[-200,800],"nice":false,"zero":false},
"axis":{"values":[-200,0,200,400,600,800],"title":"t","labelFontSize":57,"titleFontSize":57,"titleFontWeight":"normal","labelColor":"black","titleColor":"black","domainColor":"black","tickColor":"black","domainWidth":1.4,"tickWidth":1.4,"tickSize":-13,"labelPadding":23,"labelBaseline":"alphabetic","labelOffset":21,"labelFlush":false,"labelOverlap":false,"titleAngle":270,"titleAlign":"center","titleBaseline":"alphabetic","titleX":-168,"titleY":482}}
},
"layer":[
{"data":{"name":"dots"},"mark":{"type":"rule","color":"black","strokeWidth":2,"strokeDash":[2,11]},"encoding":{"y":{"datum":-200},"y2":{"datum":800}}},
{"data":{"name":"med"},"mark":{"type":"line","interpolate":"step-after","color":"black","strokeWidth":1.8},"encoding":{}},
{"data":{"name":"tr"},"mark":{"type":"line","interpolate":"monotone","color":"black","strokeWidth":1.8},"encoding":{"detail":{"field":"k","type":"nominal"}}},
{"data":{"name":"blue"},"mark":{"type":"line","interpolate":"monotone","color":"#0000ff","strokeWidth":1.8},"encoding":{}},
{"data":{"name":"red"},"mark":{"type":"line","interpolate":"monotone","color":"#ff0000","strokeWidth":1.8},"encoding":{"detail":{"field":"p","type":"nominal"}}},
{"data":{"name":"arr"},"mark":{"type":"rule","strokeWidth":2},"encoding":{"x2":{"field":"z2"},"color":{"field":"w","type":"nominal","scale":{"domain":["incoming","reflected","transmitted","medium"],"range":["#0000ff","#ff0000","#ff0000","#000000"]},"legend":null}}},
{"data":{"name":"arr"},"mark":{"type":"point","filled":true,"opacity":1,"size":1100,"strokeWidth":0},"encoding":{"x":{"field":"z2","type":"quantitative"},"shape":{"field":"w","type":"nominal","scale":{"domain":["incoming","reflected","transmitted"],"range":["M0,0L-1.7,-0.62L-1.0,0L-1.7,0.62Z","M0,0L1.7,-0.62L1.0,0L1.7,0.62Z","M0,0L-1.7,-0.62L-1.0,0L-1.7,0.62Z"]},"legend":null},"color":{"field":"w","type":"nominal","scale":{"domain":["incoming","reflected","transmitted","medium"],"range":["#0000ff","#ff0000","#ff0000","#000000"]},"legend":null}}},
{"data":{"name":"lab"},"mark":{"type":"text","align":"left","baseline":"alphabetic","fontSize":58,"font":"Liberation Sans"},"encoding":{"text":{"field":"s"},"color":{"field":"w","type":"nominal","scale":{"domain":["incoming","reflected","transmitted","medium"],"range":["#0000ff","#ff0000","#ff0000","#000000"]},"legend":null}}}
]
}
